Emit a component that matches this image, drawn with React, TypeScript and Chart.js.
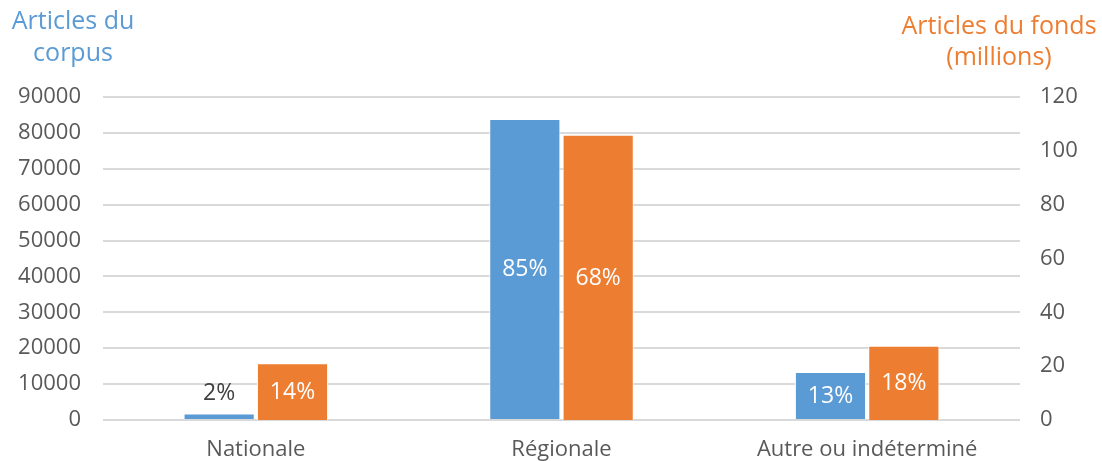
import React, { useEffect, useRef } from "react";
import { Chart, registerables } from "chart.js";

Chart.register(...registerables);

const categories = ["Nationale", "Régionale", "Autre ou indéterminé"];
const corpusValues = [1800, 83900, 13400];
const fondsValues = [21.1, 106, 27.6];
const corpusLabels = ["2%", "85%", "13%"];
const fondsLabels = ["14%", "68%", "18%"];
const leftTitle = ["Articles du", "corpus"];
const rightTitle = ["Articles du fonds", "(millions)"];

const BLUE = "#5B9BD5";
const ORANGE = "#ED7D31";
const FONT = "'Open Sans', 'Noto Sans', sans-serif";
const TICK = "#595959";

const labelPlugin = {
  id: "barLabels",
  afterDatasetsDraw(chart: any) {
    const ctx = chart.ctx;
    ctx.save();
    ctx.font = `23px ${FONT}`;
    ctx.textAlign = "center";
    ctx.textBaseline = "middle";
    const lists = [corpusLabels, fondsLabels];
    chart.data.datasets.forEach((_: any, di: number) => {
      const meta = chart.getDatasetMeta(di);
      meta.data.forEach((bar: any, i: number) => {
        const h = bar.base - bar.y;
        const text = lists[di][i];
        if (h < 30) {
          ctx.fillStyle = "#404040";
          ctx.fillText(text, bar.x, bar.y - 20);
        } else {
          ctx.fillStyle = "#FFFFFF";
          ctx.fillText(text, bar.x, (bar.y + bar.base) / 2 + 1);
        }
      });
    });
    ctx.restore();
  },
};

const titlePlugin = {
  id: "axisTitles",
  afterDraw(chart: any) {
    const ctx = chart.ctx;
    ctx.save();
    ctx.font = `25px ${FONT}`;
    ctx.textBaseline = "middle";
    ctx.textAlign = "center";
    ctx.fillStyle = BLUE;
    ctx.fillText(leftTitle[0], 73, 22);
    ctx.fillText(leftTitle[1], 73, 54);
    ctx.fillStyle = ORANGE;
    ctx.fillText(rightTitle[0], 999, 27);
    ctx.fillText(rightTitle[1], 999, 58);
    ctx.restore();
  },
};

export default function App() {
  const ref = useRef<HTMLCanvasElement>(null);
  useEffect(() => {
    document.body.style.margin = "0";
    const chart = new Chart(ref.current!, {
      type: "bar",
      data: {
        labels: categories,
        datasets: [
          {
            label: "Articles du corpus",
            data: corpusValues,
            backgroundColor: BLUE,
            borderColor: "#FFFFFF",
            borderWidth: 1,
            yAxisID: "y",
            categoryPercentage: 0.48,
            barPercentage: 0.97,
          },
          {
            label: "Articles du fonds (millions)",
            data: fondsValues,
            backgroundColor: ORANGE,
            borderColor: "#FFFFFF",
            borderWidth: 1,
            yAxisID: "y1",
            categoryPercentage: 0.48,
            barPercentage: 0.97,
          },
        ],
      },
      options: {
        animation: false,
        responsive: false,
        maintainAspectRatio: false,
        layout: { padding: { top: 97, left: 0, right: 0, bottom: 0 } },
        plugins: { legend: { display: false }, tooltip: { enabled: false } },
        scales: {
          x: {
            grid: { display: false },
            border: { display: false },
            ticks: { color: TICK, font: { family: FONT, size: 22 }, padding: 9 },
            afterFit: (s: any) => {
              s.height = 41;
            },
          },
          y: {
            position: "left",
            min: 0,
            max: 90000,
            ticks: {
              stepSize: 10000,
              color: TICK,
              font: { family: FONT, size: 22 },
              padding: 22,
              callback: (v: any) => String(v),
            },
            grid: { color: "#D9D9D9", lineWidth: 2, drawTicks: false },
            border: { display: false },
            afterFit: (s: any) => {
              s.width = 103;
            },
          },
          y1: {
            position: "right",
            min: 0,
            max: 120,
            ticks: {
              stepSize: 20,
              color: TICK,
              font: { family: FONT, size: 22 },
              padding: 20,
            },
            grid: { display: false, drawTicks: false },
            border: { display: false },
            afterFit: (s: any) => {
              s.width = 82;
            },
          },
        },
      },
      plugins: [labelPlugin, titlePlugin],
    });
    return () => chart.destroy();
  }, []);
  return (
    <div style={{ width: 1102, height: 461 }}>
      <canvas ref={ref} width={1102} height={461} style={{ display: "block" }} />
    </div>
  );
}
